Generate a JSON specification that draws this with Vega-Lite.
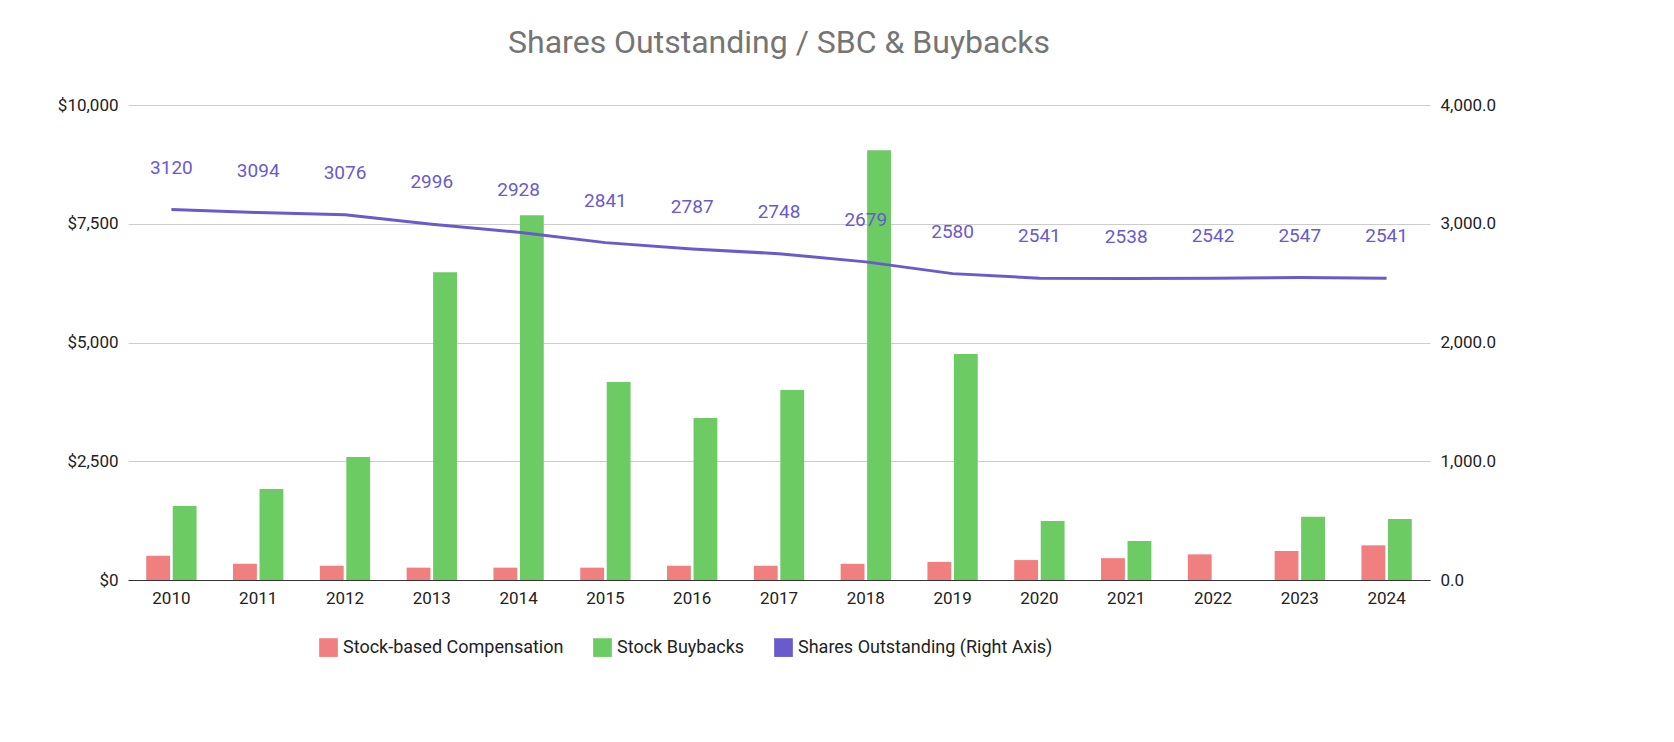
{
  "$schema": "https://vega.github.io/schema/vega-lite/v6.json",
  "autosize": "none",
  "width": 1302,
  "height": 475,
  "padding": {"left": 128, "top": 105, "right": 244, "bottom": 162},
  "background": "white",
  "config": {
    "font": "Roboto",
    "view": {"stroke": null},
    "axis": {"labelFont": "Roboto", "labelFontSize": 17, "labelColor": "#222", "titleFontSize": 0}
  },
  "title": {"text": "Shares Outstanding / SBC & Buybacks", "fontSize": 32, "font": "Roboto", "fontWeight": "normal", "color": "#757575", "offset": 36, "anchor": "middle"},
  "datasets": {
    "bars": [
      {"year": "2010", "series": "Stock-based Compensation", "v": 510}, {"year": "2010", "series": "Stock Buybacks", "v": 1560},
      {"year": "2011", "series": "Stock-based Compensation", "v": 340}, {"year": "2011", "series": "Stock Buybacks", "v": 1915},
      {"year": "2012", "series": "Stock-based Compensation", "v": 300}, {"year": "2012", "series": "Stock Buybacks", "v": 2590},
      {"year": "2013", "series": "Stock-based Compensation", "v": 260}, {"year": "2013", "series": "Stock Buybacks", "v": 6480},
      {"year": "2014", "series": "Stock-based Compensation", "v": 260}, {"year": "2014", "series": "Stock Buybacks", "v": 7680},
      {"year": "2015", "series": "Stock-based Compensation", "v": 260}, {"year": "2015", "series": "Stock Buybacks", "v": 4170},
      {"year": "2016", "series": "Stock-based Compensation", "v": 300}, {"year": "2016", "series": "Stock Buybacks", "v": 3410},
      {"year": "2017", "series": "Stock-based Compensation", "v": 300}, {"year": "2017", "series": "Stock Buybacks", "v": 4000},
      {"year": "2018", "series": "Stock-based Compensation", "v": 340}, {"year": "2018", "series": "Stock Buybacks", "v": 9050},
      {"year": "2019", "series": "Stock-based Compensation", "v": 380}, {"year": "2019", "series": "Stock Buybacks", "v": 4760},
      {"year": "2020", "series": "Stock-based Compensation", "v": 420}, {"year": "2020", "series": "Stock Buybacks", "v": 1240},
      {"year": "2021", "series": "Stock-based Compensation", "v": 460}, {"year": "2021", "series": "Stock Buybacks", "v": 820},
      {"year": "2022", "series": "Stock-based Compensation", "v": 540}, {"year": "2022", "series": "Stock Buybacks", "v": 0},
      {"year": "2023", "series": "Stock-based Compensation", "v": 610}, {"year": "2023", "series": "Stock Buybacks", "v": 1330},
      {"year": "2024", "series": "Stock-based Compensation", "v": 730}, {"year": "2024", "series": "Stock Buybacks", "v": 1285}
    ],
    "shares": [
      {"year": "2010", "series": "Shares Outstanding (Right Axis)", "s": 3120},
      {"year": "2011", "series": "Shares Outstanding (Right Axis)", "s": 3094},
      {"year": "2012", "series": "Shares Outstanding (Right Axis)", "s": 3076},
      {"year": "2013", "series": "Shares Outstanding (Right Axis)", "s": 2996},
      {"year": "2014", "series": "Shares Outstanding (Right Axis)", "s": 2928},
      {"year": "2015", "series": "Shares Outstanding (Right Axis)", "s": 2841},
      {"year": "2016", "series": "Shares Outstanding (Right Axis)", "s": 2787},
      {"year": "2017", "series": "Shares Outstanding (Right Axis)", "s": 2748},
      {"year": "2018", "series": "Shares Outstanding (Right Axis)", "s": 2679},
      {"year": "2019", "series": "Shares Outstanding (Right Axis)", "s": 2580},
      {"year": "2020", "series": "Shares Outstanding (Right Axis)", "s": 2541},
      {"year": "2021", "series": "Shares Outstanding (Right Axis)", "s": 2538},
      {"year": "2022", "series": "Shares Outstanding (Right Axis)", "s": 2542},
      {"year": "2023", "series": "Shares Outstanding (Right Axis)", "s": 2547},
      {"year": "2024", "series": "Shares Outstanding (Right Axis)", "s": 2541}
    ]
  },
  "encoding": {
    "x": {"field": "year", "type": "nominal", "scale": {"paddingInner": 0.42, "paddingOuter": 0.21}, "axis": {"labelAngle": 0, "ticks": false, "domain": true, "domainColor": "#333", "labelPadding": 10, "title": null}}
  },
  "layer": [
    {
      "data": {"name": "bars"},
      "mark": {"type": "bar"},
      "encoding": {
        "xOffset": {"field": "series", "type": "nominal", "sort": ["Stock-based Compensation", "Stock Buybacks"], "scale": {"paddingInner": 0.1}},
        "y": {"field": "v", "type": "quantitative", "scale": {"domain": [0, 10000]}, "axis": {"values": [0, 2500, 5000, 7500, 10000], "format": "$,d", "grid": true, "gridColor": "#ccc", "domain": false, "ticks": false, "labelPadding": 10, "title": null}},
        "color": {"field": "series", "type": "nominal", "scale": {"domain": ["Stock-based Compensation", "Stock Buybacks", "Shares Outstanding (Right Axis)"], "range": ["#f08080", "#6ccb63", "#6a5acd"]},
          "legend": {"orient": "none", "direction": "horizontal", "legendX": 190, "legendY": 532, "title": null, "symbolType": "square", "symbolSize": 350, "labelFontSize": 18, "labelFont": "Roboto", "labelColor": "#222", "labelLimit": 0, "columnPadding": 28}}
      }
    },
    {
      "data": {"name": "shares"},
      "encoding": {"y": {"field": "s", "type": "quantitative", "scale": {"domain": [0, 4000]}, "axis": {"orient": "right", "values": [0, 1000, 2000, 3000, 4000], "format": ",.1f", "grid": false, "domain": false, "ticks": false, "labelPadding": 10, "title": null}}},
      "layer": [
        {"mark": {"type": "line", "strokeWidth": 3, "color": "#6a5acd"}},
        {"mark": {"type": "text", "dy": -42, "fontSize": 19, "color": "#6a5acd", "font": "Roboto"},
          "encoding": {"text": {"field": "s", "type": "quantitative", "format": "d"}}}
      ]
    }
  ],
  "resolve": {"scale": {"y": "independent"}}
}
